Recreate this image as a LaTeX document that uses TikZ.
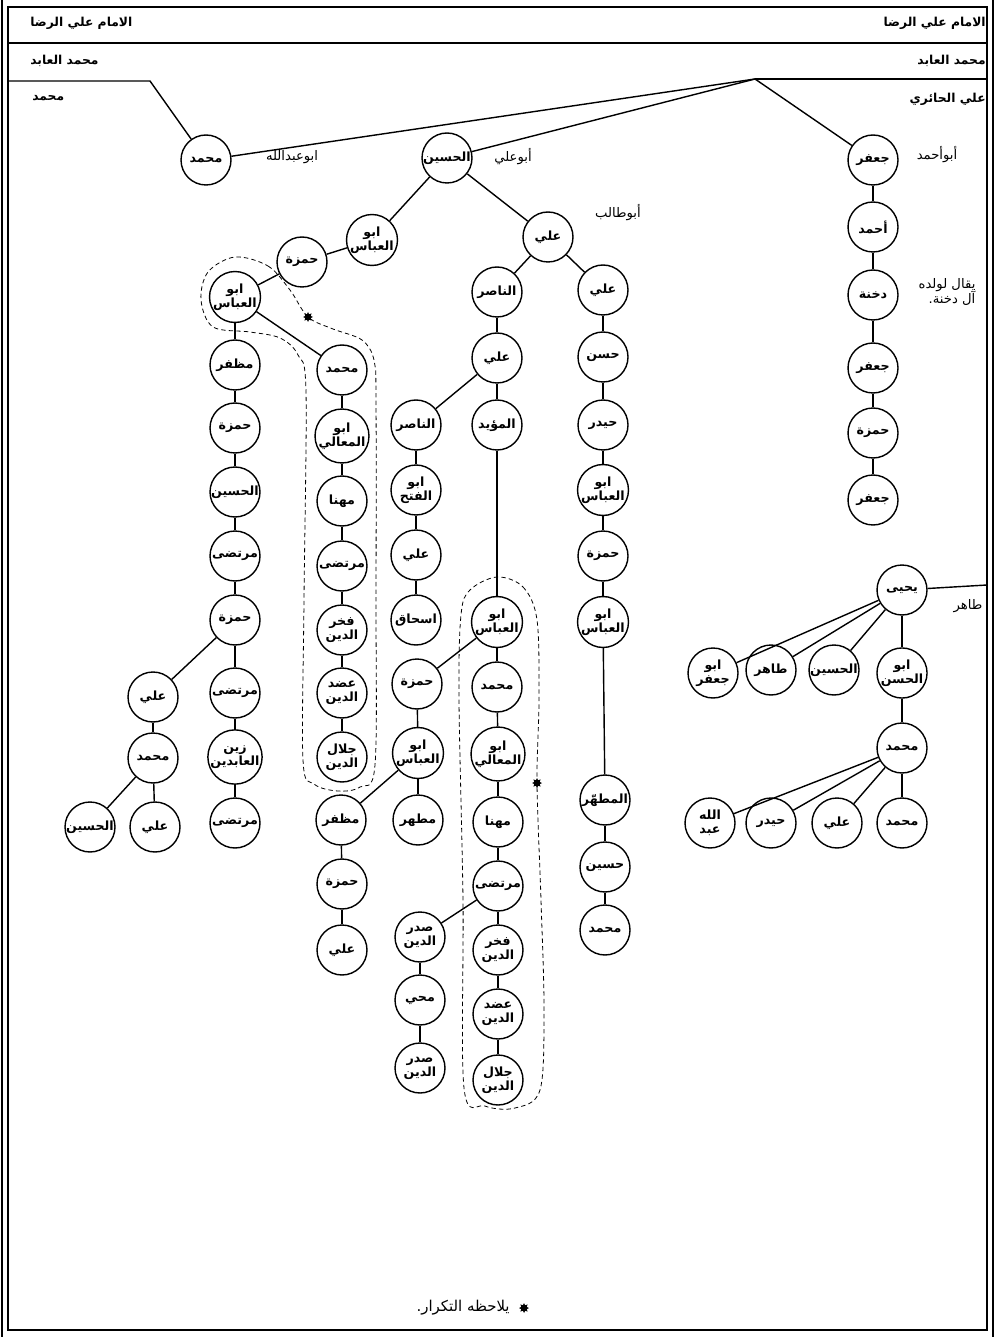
\documentclass[tikz,border=0pt]{standalone}
\usepackage{fontspec}
\usetikzlibrary{shapes.geometric}
\newfontfamily\arabicfont[Script=Arabic]{DejaVu Sans}
\TeXXeTstate=1
\newcommand\artext[1]{\beginR#1\endR}
\newcommand\twolines[2]{\artext{#1}\\\artext{#2}}

\begin{document}
\begin{tikzpicture}
[
    x=0.02cm, y=-0.02cm,
    person/.style={draw, circle, line width=0.8pt, minimum size=1cm, inner sep=0pt, align=center,
        font=\arabicfont\bfseries\fontsize{7.2}{8}\selectfont},
    link/.style={line width=0.8pt},
    heading/.style={inner sep=0pt, font=\arabicfont\bfseries\fontsize{7}{9}\selectfont},
    remark/.style={inner sep=0pt, align=right, font=\arabicfont\fontsize{7.5}{9}\selectfont},
    loopline/.style={line width=0.45pt, dash pattern=on 2.5pt off 1.8pt},
    asterisk/.style={star, star points=8, star point ratio=1.7, fill, inner sep=0pt, minimum size=0.2cm}
]
    \useasboundingbox (0,0) rectangle (998,1337);

    \draw[line width=0.9pt] (2,0) -- (2,1337);
    \draw[line width=0.9pt] (993,0) -- (993,1337);
    \draw[line width=0.8pt] (8,7) rectangle (987,1330);
    \draw[line width=0.8pt] (8,43) -- (987,43);

    \node[heading, anchor=west] (imamL) at (30,23) {\artext{الامام علي الرضا}};
    \node[heading, anchor=east] (imamR) at (986,23) {\artext{الامام علي الرضا}};
    \node[heading, anchor=west] (abidL) at (30,61) {\artext{محمد العابد}};
    \node[heading, anchor=east] (abidR) at (986,61) {\artext{محمد العابد}};
    \node[heading, anchor=west] (muhL) at (32,98) {\artext{محمد}};
    \node[heading, anchor=east] (hairiR) at (986,99) {\artext{علي الحائري}};

    \coordinate (lstart) at (8,81);
    \coordinate (lbend) at (150,81);
    \coordinate (rend) at (987,79);
    \coordinate (junction) at (755,79);

    \begin{scope}[every node/.style={person}]
        \node (muh1) at (206,160) {\artext{محمد}};
        \node (husain1) at (447,158) {\artext{الحسين}};
        \node (jafar1) at (873,160) {\artext{جعفر}};

        \node (abbas1) at (372,240) {\twolines{ابو}{العباس}};
        \node (ali1) at (548,237) {\artext{علي}};
        \node (hamza1) at (302,262) {\artext{حمزة}};
        \node (abbas2) at (235,297) {\twolines{ابو}{العباس}};
        \node (nasir1) at (497,292) {\artext{الناصر}};
        \node (ali2) at (603,290) {\artext{علي}};

        \node (mudh1) at (235,365) {\artext{مظفر}};
        \node (hamza2) at (235,428) {\artext{حمزة}};
        \node (husain2) at (235,492) {\artext{الحسين}};
        \node (murtada1) at (235,556) {\artext{مرتضى}};
        \node (hamza3) at (235,620) {\artext{حمزة}};
        \node (murtada2) at (235,693) {\artext{مرتضى}};
        \node (zain) at (235,757) {\twolines{زين}{العابدين}};
        \node (murtada3) at (235,823) {\artext{مرتضى}};
        \node (ali3) at (153,697) {\artext{علي}};
        \node (muh2) at (153,758) {\artext{محمد}};
        \node (husain3) at (90,827) {\artext{الحسين}};
        \node (ali4) at (155,827) {\artext{علي}};

        \node (muh3) at (342,370) {\artext{محمد}};
        \node (maali1) at (342,436) {\twolines{ابو}{المعالي}};
        \node (muhanna1) at (342,501) {\artext{مهنا}};
        \node (murtada4) at (342,566) {\artext{مرتضى}};
        \node (fakhr1) at (342,630) {\twolines{فخر}{الدين}};
        \node (adud1) at (342,693) {\twolines{عضد}{الدين}};
        \node (jalal1) at (342,757) {\twolines{جلال}{الدين}};

        \node (ali5) at (497,358) {\artext{علي}};
        \node (nasir2) at (416,425) {\artext{الناصر}};
        \node (fath) at (416,490) {\twolines{ابو}{الفتح}};
        \node (ali6) at (416,555) {\artext{علي}};
        \node (ishaq) at (416,620) {\artext{اسحاق}};
        \node (muayyad) at (497,425) {\artext{المؤيد}};

        \node (abbas3) at (497,622) {\twolines{ابو}{العباس}};
        \node (hamza4) at (417,684) {\artext{حمزة}};
        \node (abbas4) at (418,753) {\twolines{ابو}{العباس}};
        \node (mudh2) at (341,820) {\artext{مظفر}};
        \node (mutahhar1) at (418,820) {\artext{مطهر}};
        \node (hamza5) at (342,884) {\artext{حمزة}};
        \node (ali7) at (342,950) {\artext{علي}};

        \node (muh4) at (497,687) {\artext{محمد}};
        \node (maali2) at (498,754) {\twolines{ابو}{المعالي}};
        \node (muhanna2) at (498,822) {\artext{مهنا}};
        \node (murtada5) at (498,886) {\artext{مرتضى}};
        \node (fakhr2) at (498,950) {\twolines{فخر}{الدين}};
        \node (adud2) at (498,1014) {\twolines{عضد}{الدين}};
        \node (jalal2) at (498,1080) {\twolines{جلال}{الدين}};
        \node (sadr1) at (420,937) {\twolines{صدر}{الدين}};
        \node (muhyi) at (420,1000) {\artext{محي}};
        \node (sadr2) at (420,1068) {\twolines{صدر}{الدين}};

        \node (hasan) at (603,357) {\artext{حسن}};
        \node (haidar1) at (603,425) {\artext{حيدر}};
        \node (abbas5) at (603,490) {\twolines{ابو}{العباس}};
        \node (hamza6) at (603,556) {\artext{حمزة}};
        \node (abbas6) at (603,622) {\twolines{ابو}{العباس}};
        \node (mutahhar2) at (605,800) {\artext{المطهّر}};
        \node (husain4) at (605,867) {\artext{حسين}};
        \node (muh5) at (605,930) {\artext{محمد}};

        \node (ahmad) at (873,227) {\artext{أحمد}};
        \node (dukhna) at (873,295) {\artext{دخنة}};
        \node (jafar2) at (873,368) {\artext{جعفر}};
        \node (hamza7) at (873,433) {\artext{حمزة}};
        \node (jafar3) at (873,500) {\artext{جعفر}};

        \node (yahya) at (902,590) {\artext{يحيى}};
        \node (abujafar) at (713,673) {\twolines{ابو}{جعفر}};
        \node (tahir) at (771,670) {\artext{طاهر}};
        \node (husain5) at (834,670) {\artext{الحسين}};
        \node (abulhasan) at (902,673) {\twolines{ابو}{الحسن}};
        \node (muh6) at (902,748) {\artext{محمد}};
        \node (abdallah) at (710,823) {\twolines{الله}{عبد}};
        \node (haidar2) at (771,823) {\artext{حيدر}};
        \node (ali8) at (837,823) {\artext{علي}};
        \node (muh7) at (902,823) {\artext{محمد}};
    \end{scope}

    \coordinate (yright) at (987,585);

    \node[remark] (kunyaMuh) at (292,157) {\artext{ابوعبدالله}};
    \node[remark] (kunyaHusain) at (513,157) {\artext{أبوعلي}};
    \node[remark] (kunyaAli) at (618,213) {\artext{أبوطالب}};
    \node[remark] (kunyaJafar) at (937,155) {\artext{أبوأحمد}};
    \node[remark] (dukhnaNote) at (947,292) {\artext{يقال لولده}\\\artext{آل دخنة.}};
    \node[remark] (tahirNote) at (968,606) {\artext{طاهر}};

    \draw[link] (lstart) -- (lbend) -- (muh1);
    \draw[link] (rend) -- (junction);
    \foreach \a/\b in {junction/muh1, junction/husain1, junction/jafar1,
        husain1/abbas1, husain1/ali1, abbas1/hamza1, hamza1/abbas2, abbas2/mudh1, abbas2/muh3,
        mudh1/hamza2, hamza2/husain2, husain2/murtada1, murtada1/hamza3, hamza3/ali3,
        hamza3/murtada2, murtada2/zain, zain/murtada3, ali3/muh2, muh2/husain3, muh2/ali4,
        muh3/maali1, maali1/muhanna1, muhanna1/murtada4, murtada4/fakhr1, fakhr1/adud1, adud1/jalal1,
        ali1/nasir1, ali1/ali2, nasir1/ali5, ali5/nasir2, ali5/muayyad,
        nasir2/fath, fath/ali6, ali6/ishaq, muayyad/abbas3,
        abbas3/hamza4, abbas3/muh4, hamza4/abbas4, abbas4/mudh2, abbas4/mutahhar1,
        mudh2/hamza5, hamza5/ali7,
        muh4/maali2, maali2/muhanna2, muhanna2/murtada5, murtada5/fakhr2, fakhr2/adud2, adud2/jalal2,
        murtada5/sadr1, sadr1/muhyi, muhyi/sadr2,
        ali2/hasan, hasan/haidar1, haidar1/abbas5, abbas5/hamza6, hamza6/abbas6,
        abbas6/mutahhar2, mutahhar2/husain4, husain4/muh5,
        jafar1/ahmad, ahmad/dukhna, dukhna/jafar2, jafar2/hamza7, hamza7/jafar3,
        yahya/yright, yahya/abujafar, yahya/tahir, yahya/husain5, yahya/abulhasan,
        abulhasan/muh6, muh6/abdallah, muh6/haidar2, muh6/ali8, muh6/muh7}
        \draw[link] (\a) -- (\b);

    \draw[loopline] plot[smooth cycle, tension=0.55] coordinates {
        (235,257) (268,266) (290,290) (308,317) (333,329) (362,340) (374,360) (376,400)
        (376,600) (375,765) (360,787) (338,791) (314,784) (303,760) (304,600)
        (306,392) (298,355) (280,338) (250,332) (213,327) (201,300) (208,272)};
    \draw[loopline] plot[smooth cycle, tension=0.55] coordinates {
        (497,577) (523,587) (537,620) (539,700) (537,783) (541,900) (544,1010)
        (540,1090) (515,1108) (485,1106) (464,1088) (463,900) (459,700) (461,615) (470,590)};
    \node[asterisk] (repeat1) at (308,317) {};
    \node[asterisk] (repeat2) at (537,783) {};

    \node[asterisk] (footstar) at (524,1308) {};
    \node[remark, anchor=east, font=\arabicfont\fontsize{8.5}{10}\selectfont] (footnote) at (510,1308) {\artext{يلاحظه التكرار.}};
\end{tikzpicture}
\end{document}
